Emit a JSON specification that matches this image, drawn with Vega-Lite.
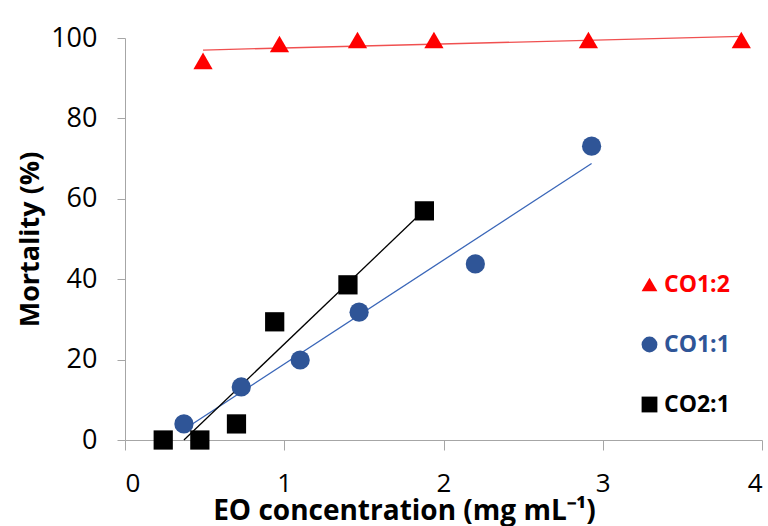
{
  "$schema": "https://vega.github.io/schema/vega-lite/v6.json",
  "autosize": "none",
  "width": 637,
  "height": 402,
  "padding": {"left": 125, "top": 38, "right": 6, "bottom": 86},
  "background": "white",
  "config": {
    "view": {"stroke": null}, "font": "Open Sans"
  },
  "datasets": {
    "points": [
      {"series": "CO1:2", "conc": 0.49, "mortality": 94.3},
      {"series": "CO1:2", "conc": 0.97, "mortality": 98.5},
      {"series": "CO1:2", "conc": 1.46, "mortality": 99.5},
      {"series": "CO1:2", "conc": 1.94, "mortality": 99.5},
      {"series": "CO1:2", "conc": 2.91, "mortality": 99.5},
      {"series": "CO1:2", "conc": 3.87, "mortality": 99.5},
      {"series": "CO1:1", "conc": 0.37, "mortality": 4.0},
      {"series": "CO1:1", "conc": 0.73, "mortality": 13.2},
      {"series": "CO1:1", "conc": 1.10, "mortality": 19.9},
      {"series": "CO1:1", "conc": 1.47, "mortality": 31.8},
      {"series": "CO1:1", "conc": 2.20, "mortality": 43.8},
      {"series": "CO1:1", "conc": 2.93, "mortality": 73.1},
      {"series": "CO2:1", "conc": 0.24, "mortality": 0},
      {"series": "CO2:1", "conc": 0.47, "mortality": 0},
      {"series": "CO2:1", "conc": 0.70, "mortality": 4.0},
      {"series": "CO2:1", "conc": 0.94, "mortality": 29.4},
      {"series": "CO2:1", "conc": 1.40, "mortality": 38.6},
      {"series": "CO2:1", "conc": 1.88, "mortality": 57.0}
    ],
    "trend": [
      {"series": "CO1:2", "conc": 0.49, "mortality": 97.0},
      {"series": "CO1:2", "conc": 3.87, "mortality": 100.4},
      {"series": "CO1:1", "conc": 0.37, "mortality": 2.6},
      {"series": "CO1:1", "conc": 2.93, "mortality": 68.8},
      {"series": "CO2:1", "conc": 0.37, "mortality": 0},
      {"series": "CO2:1", "conc": 1.88, "mortality": 57.2}
    ]
  },
  "encoding": {
    "x": {
      "field": "conc", "type": "quantitative",
      "scale": {"domain": [0, 4], "nice": false},
      "axis": {
        "title": "EO concentration (mg mL⁻¹)", "values": [0, 1, 2, 3, 4],
        "grid": false, "domainColor": "#a6a6a6", "tickColor": "#a6a6a6", "tickSize": 10,
        "labelFontSize": 26, "labelColor": "#000", "labelPadding": 20,
        "titleFontSize": 28, "titleFontWeight": "bold", "titleColor": "#000",
        "titleX": 279, "titleY": 79, "titleAlign": "center", "titleAnchor": "start", "titleBaseline": "alphabetic"
      }
    },
    "y": {
      "field": "mortality", "type": "quantitative",
      "scale": {"domain": [0, 100], "nice": false},
      "axis": {
        "title": "Mortality (%)", "values": [0, 20, 40, 60, 80, 100],
        "grid": false, "domainColor": "#a6a6a6", "tickColor": "#a6a6a6", "tickSize": 8,
        "labelFontSize": 27, "labelColor": "#000", "labelPadding": 20,
        "titleFontSize": 27, "titleFontWeight": "bold", "titleColor": "#000", "titlePadding": 6
      }
    }
  },
  "layer": [
    {
      "data": {"name": "trend"},
      "transform": [{"filter": "datum.series === 'CO1:2'"}],
      "mark": {"type": "line", "strokeWidth": 1.3, "clip": false, "color": "#f05050"},
      "encoding": {}
    },
    {
      "data": {"name": "trend"},
      "transform": [{"filter": "datum.series === 'CO1:1'"}],
      "mark": {"type": "line", "strokeWidth": 1.3, "clip": false, "color": "#3a66b8"},
      "encoding": {}
    },
    {
      "data": {"name": "trend"},
      "transform": [{"filter": "datum.series === 'CO2:1'"}],
      "mark": {"type": "line", "strokeWidth": 1.3, "clip": false, "color": "#000000"},
      "encoding": {}
    },
    {
      "data": {"name": "points"},
      "mark": {"type": "point", "filled": true, "opacity": 1, "size": 370},
      "encoding": {
        "color": {
          "field": "series", "type": "nominal",
          "scale": {"domain": ["CO1:2", "CO1:1", "CO2:1"], "range": ["#ff0000", "#2f5597", "#000000"]},
          "legend": {
            "title": null, "orient": "none", "legendX": 513, "legendY": 235,
            "symbolSize": 250, "rowPadding": 36, "labelFontSize": 23, "labelFontWeight": "bold",
            "labelOffset": 3,
            "labelColor": {"expr": "datum.value === 'CO1:2' ? '#ff0000' : datum.value === 'CO1:1' ? '#2f5597' : '#000000'"}
          }
        },
        "shape": {
          "field": "series", "type": "nominal",
          "scale": {"domain": ["CO1:2", "CO1:1", "CO2:1"], "range": ["triangle-up", "circle", "square"]},
          "legend": {
            "title": null, "orient": "none", "legendX": 513, "legendY": 235,
            "symbolSize": 250, "rowPadding": 36, "labelFontSize": 23, "labelFontWeight": "bold",
            "labelOffset": 3,
            "labelColor": {"expr": "datum.value === 'CO1:2' ? '#ff0000' : datum.value === 'CO1:1' ? '#2f5597' : '#000000'"}
          }
        }
      }
    }
  ]
}
